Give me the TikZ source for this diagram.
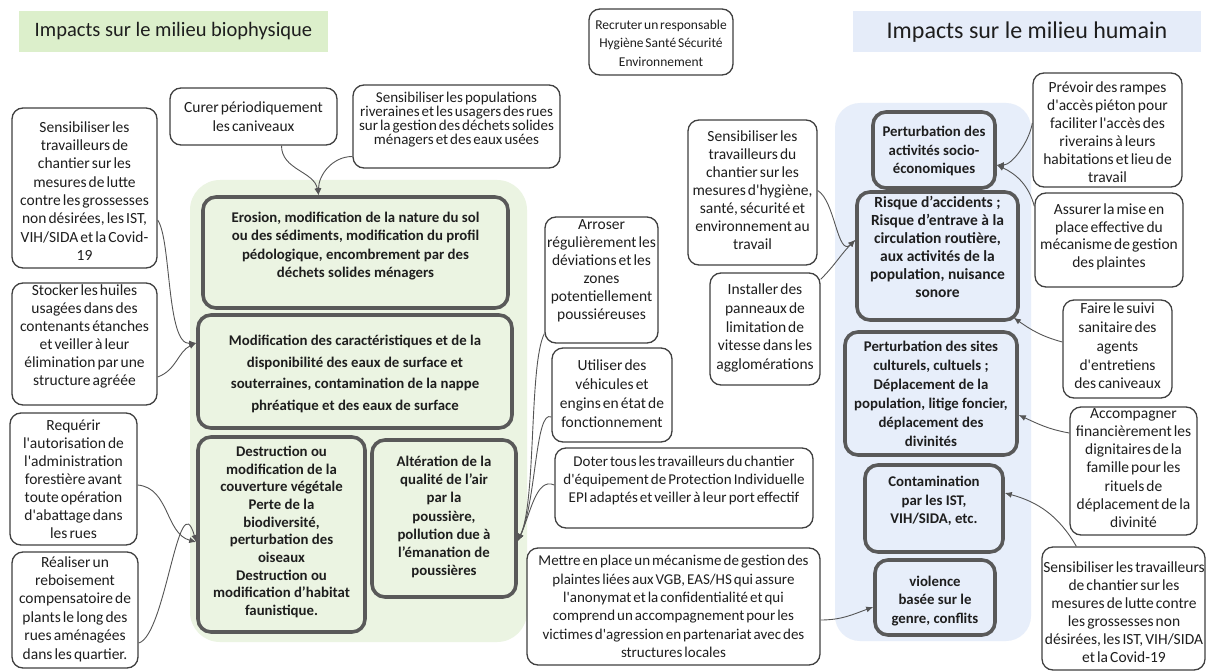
\documentclass[tikz,border=0pt]{standalone}
\usepackage{fontspec}
\setmainfont{Carlito}
\newfontfamily\tf{Carlito}[WordSpace=0.6]
\usetikzlibrary{arrows.meta,calc}
\newcommand\fs[2]{\fontsize{#1}{#2}\selectfont}
\definecolor{pgreen}{RGB}{235,244,226}
\definecolor{tgreen}{RGB}{220,239,203}
\definecolor{pblue}{RGB}{231,238,250}
\definecolor{tblue}{RGB}{229,236,249}
\definecolor{ibord}{RGB}{89,89,89}
\definecolor{sbord}{RGB}{64,64,64}
\definecolor{conncol}{RGB}{85,85,85}
\definecolor{txtcol}{RGB}{30,30,30}
\begin{document}
\begin{tikzpicture}[x=1pt,y=-1pt,
  sbox/.style={draw=sbord, line width=1.3pt, rounded corners=11pt, fill=white, inner sep=0pt},
  ibox/.style={draw=ibord, line width=3.6pt, rounded corners=13pt, inner sep=0pt},
  stxt/.style={align=center, inner sep=0pt, text=txtcol, font=\tf\fs{15.5}{18}},
  itxt/.style={align=center, inner sep=0pt, text=txtcol, font=\bfseries\fs{14.8}{18.3}},
  conn/.style={draw=conncol, line width=0.9pt, -{Latex[length=7pt,width=6pt]}},
]
\useasboundingbox (0,0) rectangle (1206,671);
\fill[white] (0,0) rectangle (1206,671);

% panels
\node[fill=pgreen, rounded corners=30pt, minimum width=337pt, minimum height=462pt, inner sep=0pt] (gpanel) at (358.5,411) {};
\node[fill=pblue, rounded corners=25pt, minimum width=196pt, minimum height=538pt, inner sep=0pt] (bpanel) at (933,372) {};

% titles
\node[fill=tgreen, minimum width=309pt, minimum height=41pt, inner sep=0pt, text=txtcol, font=\fs{20.5}{24}] (t1) at (173.5,31.5) {Impacts sur le milieu biophysique};
\node[fill=tblue, minimum width=348pt, minimum height=41pt, inner sep=0pt, text=txtcol, font=\fs{24}{28}] (t2) at (1027,32) {Impacts sur le milieu humain};

% impact boxes
\node[ibox, minimum width=305pt, minimum height=111pt] (eros) at (355.5,252.5) {};
\node[ibox, minimum width=314pt, minimum height=113pt] (modif) at (355,371.5) {};
\node[ibox, minimum width=167pt, minimum height=195pt] (destr) at (281.5,534.5) {};
\node[ibox, minimum width=144pt, minimum height=157pt] (alter) at (444,518.5) {};
\node[ibox, minimum width=122pt, minimum height=76pt] (pact) at (934,150) {};
\node[ibox, minimum width=161pt, minimum height=128pt] (risq) at (937.5,256) {};
\node[ibox, minimum width=172pt, minimum height=123pt] (psites) at (931,393.5) {};
\node[ibox, minimum width=138pt, minimum height=87pt] (conta) at (934,508.5) {};
\node[ibox, minimum width=120pt, minimum height=75pt] (viol) at (935,597.5) {};

% small boxes
\node[sbox, minimum width=167pt, minimum height=57pt] (curer) at (253.5,116.5) {};
\node[sbox, minimum width=207pt, minimum height=83pt] (spop) at (456.5,126.5) {};
\node[sbox, minimum width=145pt, minimum height=160pt] (lsens) at (84.5,188) {};
\node[sbox, minimum width=145pt, minimum height=122pt] (stock) at (84.5,344) {};
\node[sbox, minimum width=127pt, minimum height=132pt] (requ) at (73.5,479) {};
\node[sbox, minimum width=126pt, minimum height=116pt] (reali) at (75,610) {};
\node[sbox, minimum width=113pt, minimum height=126pt] (arros) at (601.5,280) {};
\node[sbox, minimum width=120pt, minimum height=94pt] (util) at (612,395) {};
\node[sbox, minimum width=258pt, minimum height=80pt] (doter) at (684,488) {};
\node[sbox, minimum width=293pt, minimum height=117pt] (mettre) at (673.5,606.5) {};
\node[sbox, minimum width=144pt, minimum height=66pt] (recru) at (661,42) {};
\node[sbox, minimum width=129pt, minimum height=145pt] (csens) at (752.5,192.5) {};
\node[sbox, minimum width=110pt, minimum height=112pt] (instal) at (765,329) {};
\node[sbox, minimum width=149pt, minimum height=114pt] (prev) at (1107.5,130) {};
\node[sbox, minimum width=148pt, minimum height=94pt] (assur) at (1109,240) {};
\node[sbox, minimum width=109pt, minimum height=98pt] (faire) at (1117.5,349) {};
\node[sbox, minimum width=127pt, minimum height=128pt] (accomp) at (1133.5,471) {};
\node[sbox, minimum width=163pt, minimum height=123pt] (rsens) at (1123.5,608.5) {};

% impact texts
\node[itxt] (eros-t) at (355.5,246) {Erosion, modification de la nature du sol\\ou des sédiments, modification du profil\\pédologique, encombrement par des\\déchets solides ménagers};
\node[itxt, font=\bfseries\fs{14.8}{21.7}] (modif-t) at (355,374) {Modification des caractéristiques et de la\\disponibilité des eaux de surface et\\souterraines, contamination de la nappe\\phréatique et des eaux de surface};
\node[itxt, font=\bfseries\fs{14.8}{17.7}] (destr-t) at (281.5,532) {Destruction ou\\modification de la\\couverture végétale\\Perte de la\\biodiversité,\\perturbation des\\oiseaux\\Destruction ou\\modification d’habitat\\faunistique.};
\node[itxt, font=\bfseries\fs{14.8}{18.2}] (alter-t) at (444,517) {Altération de la\\qualité de l’air\\par la\\poussière,\\pollution due à\\l’émanation de\\poussières};
\node[itxt, font=\bfseries\fs{14.8}{18.5}] (pact-t) at (934,151) {Perturbation des\\activités socio-\\économiques};
\node[itxt, font=\bfseries\fs{15.5}{18}] (risq-t) at (937.5,247) {Risque d’accidents ;\\Risque d’entrave à la\\circulation routière,\\aux activités de la\\population, nuisance\\sonore};
\node[itxt, font=\bfseries\fs{14.8}{19}] (psites-t) at (931,394) {Perturbation des sites\\culturels, cultuels ;\\Déplacement de la\\population, litige foncier,\\déplacement des\\divinités};
\node[itxt, font=\bfseries\fs{14.8}{18.5}] (conta-t) at (934,501) {Contamination\\par les IST,\\VIH/SIDA, etc.};
\node[itxt, font=\bfseries\fs{14.8}{18.5}] (viol-t) at (935,601) {violence\\basée sur le\\genre, conflits};

% small texts
\node[stxt, font=\tf\fs{15.5}{19}] (curer-t) at (253.5,117) {Curer périodiquement\\les caniveaux};
\node[stxt, font=\tf\fs{15}{14.2}] (spop-t) at (456.5,119.5) {Sensibiliser les populations\\riveraines et les usagers des rues\\sur la gestion des déchets solides\\ménagers et des eaux usées};
\node[stxt, font=\tf\fs{15.5}{18.3}] (lsens-t) at (84.5,191) {Sensibiliser les\\travailleurs de\\chantier sur les\\mesures de lutte\\contre les grossesses\\non désirées, les IST,\\VIH/SIDA et la Covid-\\19};
\node[stxt] (stock-t) at (84.5,336) {Stocker les huiles\\usagées dans des\\contenants étanches\\et veiller à leur\\élimination par une\\structure agréée};
\node[stxt] (requ-t) at (73.5,479) {Requérir\\l'autorisation de\\l'administration\\forestière avant\\toute opération\\d'abattage dans\\les rues};
\node[stxt, font=\tf\fs{15.5}{18.4}] (reali-t) at (75,609) {Réaliser un\\reboisement\\compensatoire de\\plants le long des\\rues aménagées\\dans les quartier.};
\node[stxt] (arros-t) at (601.5,271) {Arroser\\régulièrement les\\déviations et les\\zones\\potentiellement\\poussiéreuses};
\node[stxt, font=\tf\fs{15.5}{19}] (util-t) at (612,394) {Utiliser des\\véhicules et\\engins en état de\\fonctionnement};
\node[stxt, font=\tf\fs{15}{18}] (doter-t) at (684,480) {Doter tous les travailleurs du chantier\\d'équipement de Protection Individuelle\\EPI adaptés et veiller à leur port effectif};
\node[stxt, font=\tf\fs{15}{18.4}] (mettre-t) at (673.5,606.5) {Mettre en place un mécanisme de gestion des\\plaintes liées aux VGB, EAS/HS qui assure\\l'anonymat et la confidentialité et qui\\comprend un accompagnement pour les\\victimes d'agression en partenariat avec des\\structures locales};
\node[stxt, font=\tf\fs{13.5}{18.5}] (recru-t) at (661,43) {Recruter un responsable\\Hygiène Santé Sécurité\\Environnement};
\node[stxt] (csens-t) at (752.5,190) {Sensibiliser les\\travailleurs du\\chantier sur les\\mesures d'hygiène,\\santé, sécurité et\\environnement au\\travail};
\node[stxt, font=\tf\fs{15.5}{18.75}] (instal-t) at (765,328) {Installer des\\panneaux de\\limitation de\\vitesse dans les\\agglomérations};
\node[stxt] (prev-t) at (1107.5,132) {Prévoir des rampes\\d'accès piéton pour\\faciliter l'accès des\\riverains à leurs\\habitations et lieu de\\travail};
\node[stxt, font=\tf\fs{15.5}{17.7}] (assur-t) at (1109,237) {Assurer la mise en\\place effective du\\mécanisme de gestion\\des plaintes};
\node[stxt, font=\tf\fs{15.5}{18.75}] (faire-t) at (1117.5,346) {Faire le suivi\\sanitaire des\\agents\\d'entretiens\\des caniveaux};
\node[stxt, font=\tf\fs{15.5}{18.2}] (accomp-t) at (1133.5,468) {Accompagner\\financièrement les\\dignitaires de la\\famille pour les\\rituels de\\déplacement de la\\divinité};
\node[stxt] (rsens-t) at (1124,612) {Sensibiliser les travailleurs\\de chantier sur les\\mesures de lutte contre\\les grossesses non\\désirées, les IST, VIH/SIDA\\et la Covid-19};

% connectors
\draw[conn] ([xshift=28pt]curer.south) to[out=-90,in=100] ([xshift=-37pt]eros.north);
\draw[conn] ([yshift=-30pt]spop.west) to[out=180,in=90] ([xshift=-37pt]eros.north);
\draw[conn] ([yshift=-32pt]lsens.east) to[out=-55,in=184,out distance=24pt,in distance=30pt] ([yshift=28.5pt]modif.west);
\draw[conn] ([yshift=-33pt]stock.east) to[out=20,in=205] ([yshift=28.5pt]modif.west);
\draw[conn] ([yshift=-6pt]requ.east) to[out=-5,in=165] ([yshift=-7.5pt]destr.west);
\draw[conn] ([yshift=-33pt]reali.east) to[out=15,in=106,out distance=28pt,in distance=64pt] ([yshift=-7.5pt]destr.west);
\draw[conn] ([yshift=10pt]arros.south west) to[out=243,in=65,out distance=34pt,in distance=44pt] ([yshift=-22.5pt]alter.east);
\draw[conn] ([yshift=-22pt]util.west) to[out=153,in=65,out distance=18pt,in distance=44pt] ([yshift=-22.5pt]alter.east);
\draw[conn] ([yshift=3pt]doter.west) to[out=156,in=65,out distance=20pt,in distance=30pt] ([yshift=-22.5pt]alter.east);
\draw[conn] ([yshift=2pt]csens.east) to[out=-30,in=225,out distance=20pt,in distance=25pt] ([yshift=16pt]risq.west);
\draw[conn] ([yshift=-7pt]instal.north east) to[out=45,in=225] ([yshift=16pt]risq.west);
\draw[conn] ([yshift=7pt]prev.west) to[out=-100,in=0,out distance=20pt,in distance=15pt] ([yshift=-15pt]pact.east);
\draw[conn] ([yshift=-14pt]assur.north west) to[out=105,in=-25] ([yshift=-15pt]pact.east);
\draw[conn] ([yshift=7pt]faire.west) to[out=165,in=-35] ([xshift=-6pt,yshift=4pt]risq.south east);
\draw[conn] ([yshift=38pt]accomp.west) to[out=170,in=-25] ([yshift=-21.5pt]psites.east);
\draw[conn] ([xshift=35pt]rsens.north west) to[out=120,in=-15] ([yshift=15.5pt]conta.east);
\draw[conn] ([yshift=-13.5pt]mettre.east) to[out=0,in=200] ([yshift=-9.5pt]viol.west);
\end{tikzpicture}
\end{document}
